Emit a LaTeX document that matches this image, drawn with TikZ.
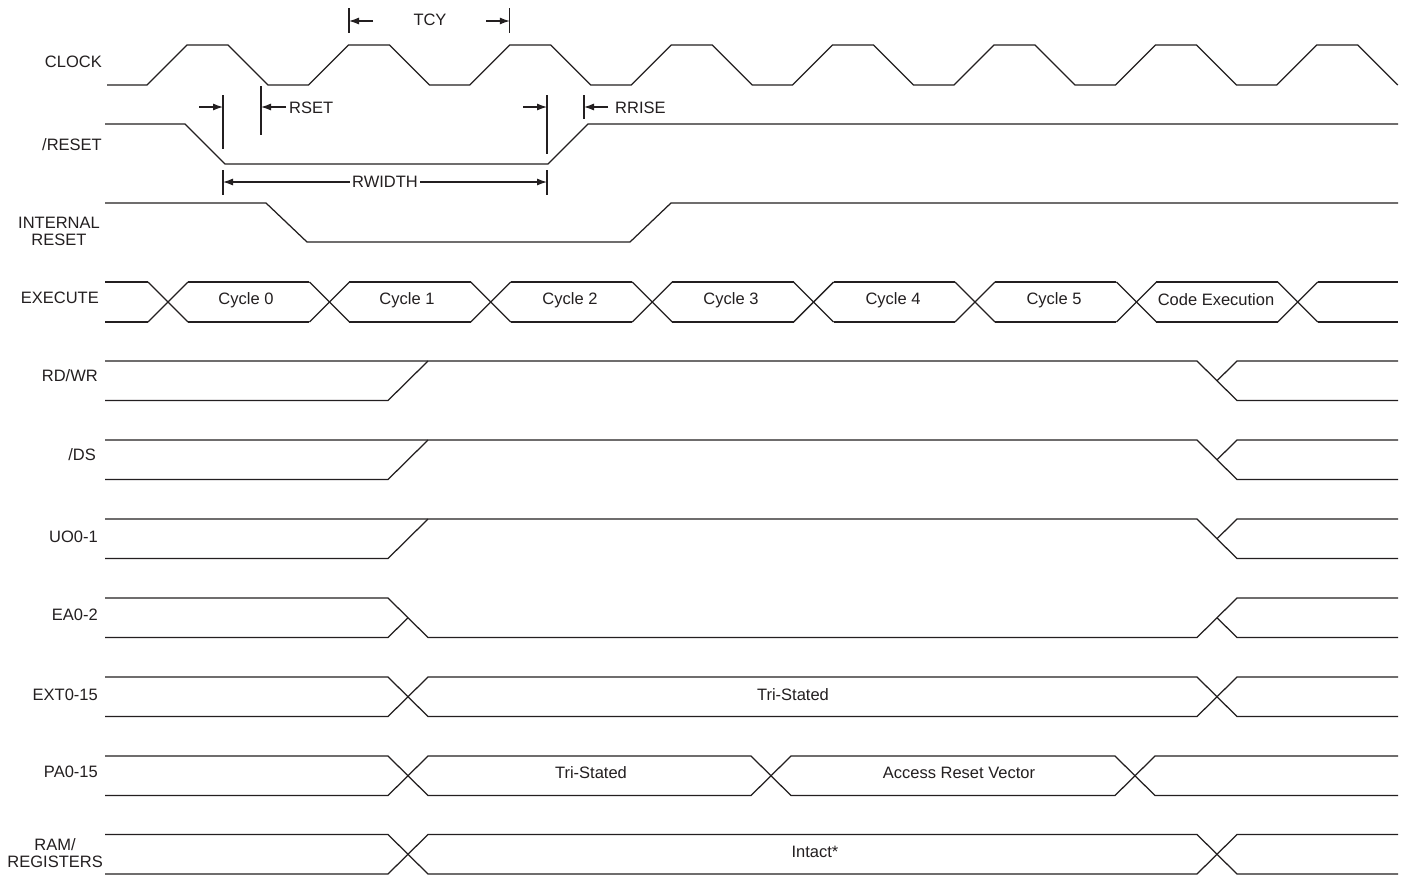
\documentclass[tikz,border=0pt]{standalone}
\usepackage{fontspec}
\setmainfont{Liberation Sans}
\usetikzlibrary{arrows.meta}
\definecolor{ink}{HTML}{231F20}
\begin{document}
\begin{tikzpicture}[x=1pt,y=-1pt,
  wave/.style={draw=ink,line width=1.25pt,line join=miter},
  dim/.style={draw=ink,line width=1.1pt},
  dimarrow/.style={draw=ink,line width=1.1pt,-{Latex[length=10pt,width=7pt]}},
  sig/.style={font=\fontsize{16.5}{17}\selectfont,text=ink,anchor=east,inner sep=0pt,align=center},
  txt/.style={font=\fontsize{16.5}{17}\selectfont,text=ink,inner sep=0pt}]
\useasboundingbox (0,0) rectangle (1411,876);
\fill[white] (0,0) rectangle (1411,876);

% ---------- signal names
\node[sig] (lclk) at (102,62) {CLOCK};
\node[sig] (lrst) at (102,145) {/RESET};
\node[sig] (lint) at (100,231) {INTERNAL\\RESET};
\node[sig] (lexe) at (99,298) {EXECUTE};
\node[sig] (lrdwr) at (98,376) {RD/WR};
\node[sig] (lds) at (96,455) {/DS};
\node[sig] (luo) at (98,537) {UO0-1};
\node[sig] (lea) at (98,615) {EA0-2};
\node[sig] (lext) at (98,695) {EXT0-15};
\node[sig] (lpa) at (98,772) {PA0-15};
\node[sig] (lram) at (103,853) {RAM/\\REGISTERS};

% ---------- CLOCK
\draw[wave] (107,85) foreach \k in {0,...,6} {
  -- ({147+161.4*\k},85) -- ({187+161.4*\k},45) -- ({228+161.4*\k},45) -- ({268+161.4*\k},85) }
  -- (1276.8,85) -- (1316.8,45) -- (1357.8,45) -- (1397.8,85);

% TCY
\coordinate (tcyA) at (349,21);
\coordinate (tcyB) at (509.8,21);
\draw[dim] (349,8) -- (349,33);
\draw[dim] (509.8,8) -- (509.8,33);
\draw[dimarrow] (373,21) -- (tcyA);
\draw[dimarrow] (486,21) -- (tcyB);
\node[txt] (tcy) at (430,20) {TCY};

% ---------- /RESET
\draw[wave] (105,124) -- (185,124) -- (225,164) -- (548,164) -- (588,124) -- (1398,124);

% RSET
\coordinate (rsA) at (223,107);
\coordinate (rsB) at (261,107);
\draw[dim] (223,95) -- (223,149);
\draw[dim] (261,86) -- (261,135);
\draw[dimarrow] (199,107) -- (rsA);
\draw[dimarrow] (286,107) -- (rsB);
\node[txt,anchor=west] (rset) at (289,108) {RSET};

% RRISE
\coordinate (rrA) at (547,107);
\coordinate (rrB) at (584,107);
\draw[dim] (547,95) -- (547,154);
\draw[dim] (584,95) -- (584,119);
\draw[dimarrow] (523,107) -- (rrA);
\draw[dimarrow] (608,107) -- (rrB);
\node[txt,anchor=west] (rrise) at (615,108) {RRISE};

% RWIDTH
\coordinate (rwA) at (223,182);
\coordinate (rwB) at (547,182);
\draw[dim] (223,170) -- (223,195);
\draw[dim] (547,170) -- (547,195);
\node[txt,fill=white,inner xsep=2pt] (rwidth) at (385,182) {RWIDTH};
\draw[dimarrow] (rwidth.west) -- (rwA);
\draw[dimarrow] (rwidth.east) -- (rwB);

% ---------- INTERNAL RESET
\draw[wave] (105,203) -- (266,203) -- (307,242) -- (630,242) -- (671,203) -- (1398,203);

% ---------- EXECUTE
\draw[wave] (105,282) -- (148,282);
\draw[wave] (105,322) -- (148,322);
\foreach \k in {0,...,7} {
  \pgfmathsetmacro{\c}{168+161.4*\k}
  \draw[wave] ({\c-20},282) -- ({\c+20},322);
  \draw[wave] ({\c-20},322) -- ({\c+20},282);
}
\foreach \k in {0,...,6} {
  \pgfmathsetmacro{\a}{188+161.4*\k}
  \pgfmathsetmacro{\b}{148+161.4*(\k+1)}
  \draw[wave] (\a,282) -- (\b,282);
  \draw[wave] (\a,322) -- (\b,322);
}
\draw[wave] (1317.8,282) -- (1398,282);
\draw[wave] (1317.8,322) -- (1398,322);
\node[txt] (c0) at (246,300) {Cycle 0};
\node[txt] (c1) at (407,300) {Cycle 1};
\node[txt] (c2) at (570,300) {Cycle 2};
\node[txt] (c3) at (731,300) {Cycle 3};
\node[txt] (c4) at (893,300) {Cycle 4};
\node[txt] (c5) at (1054,300) {Cycle 5};
\node[txt] (c6) at (1216,300) {Code Execution};

% ---------- RD/WR, /DS, UO0-1 (converge high, split at end)
\foreach \t in {361,440,519} {
  \pgfmathsetmacro{\bo}{\t+39.5}
  \pgfmathsetmacro{\m}{\t+19.75}
  \draw[wave] (105,\t) -- (1197,\t) -- (1237,\bo) -- (1398,\bo);
  \draw[wave] (105,\bo) -- (388,\bo) -- (428,\t);
  \draw[wave] (1217,\m) -- (1237,\t) -- (1398,\t);
}

% ---------- EA0-2
\draw[wave] (105,598) -- (388,598) -- (428,637.5) -- (1197,637.5) -- (1237,598) -- (1398,598);
\draw[wave] (105,637.5) -- (388,637.5) -- (408,617.75);
\draw[wave] (1217,617.75) -- (1237,637.5) -- (1398,637.5);

% ---------- EXT0-15 and RAM/REGISTERS
\foreach \t in {677,834.5} {
  \pgfmathsetmacro{\bo}{\t+39.5}
  \draw[wave] (105,\t) -- (388,\t) -- (428,\bo) -- (1197,\bo) -- (1237,\t) -- (1398,\t);
  \draw[wave] (105,\bo) -- (388,\bo) -- (428,\t) -- (1197,\t) -- (1237,\bo) -- (1398,\bo);
}
\node[txt] (ext) at (793,695) {Tri-Stated};
\node[txt] (ram) at (815,852) {Intact*};

% ---------- PA0-15
\draw[wave] (105,756) -- (388,756) -- (428,795.5) -- (751,795.5) -- (791,756) -- (1115,756) -- (1155,795.5) -- (1398,795.5);
\draw[wave] (105,795.5) -- (388,795.5) -- (428,756) -- (751,756) -- (791,795.5) -- (1115,795.5) -- (1155,756) -- (1398,756);
\node[txt] (pa1) at (591,773) {Tri-Stated};
\node[txt] (pa2) at (959,773) {Access Reset Vector};
\end{tikzpicture}
\end{document}
